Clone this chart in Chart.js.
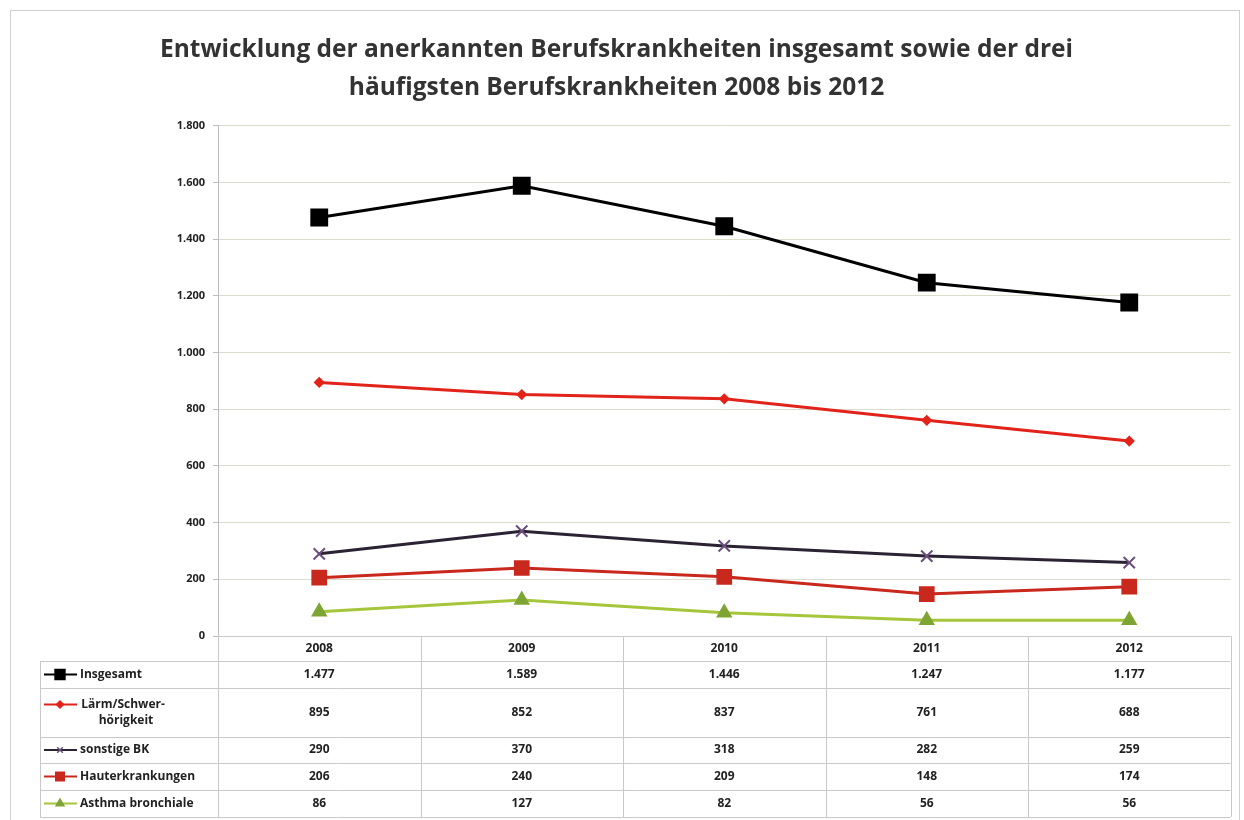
<!DOCTYPE html>
<html>
<head>
<meta charset="utf-8">
<script src="https://cdn.jsdelivr.net/npm/chart.js@4.4.1/dist/chart.umd.min.js"></script>
<style>
  html, body { margin: 0; background: #fff; }
  canvas { display: block; }
</style>
</head>
<body>
<canvas id="bkChart" width="1244" height="820"></canvas>
<script>
// === Data ====================================================================
const years = ["2008", "2009", "2010", "2011", "2012"];
const insgesamt = [1477, 1589, 1446, 1247, 1177];
const laermSchwerhoerigkeit = [895, 852, 837, 761, 688];
const sonstigeBK = [290, 370, 318, 282, 259];
const hauterkrankungen = [206, 240, 209, 148, 174];
const asthmaBronchiale = [86, 127, 82, 56, 56];
const rowLabels = [
  ["Insgesamt"],
  ["Lärm/Schwer-", "hörigkeit"],
  ["sonstige BK"],
  ["Hauterkrankungen"],
  ["Asthma bronchiale"],
];
const titleLines = [
  "Entwicklung der anerkannten Berufskrankheiten insgesamt sowie der drei",
  "häufigsten Berufskrankheiten 2008 bis 2012",
];

// German number format: 1477 -> "1.477"
function fmtDE(v) {
  return String(v).replace(/\B(?=(\d{3})+(?!\d))/g, ".");
}

const FONT = "'Open Sans', 'Liberation Sans', sans-serif";

// === Data table below the plot ==============================================
const tablePlugin = {
  id: "dataTable",
  afterDraw(chart) {
    const ctx = chart.ctx;
    const xs = chart.scales.x;
    const area = chart.chartArea;
    const colW = (area.right - area.left) / years.length;
    const rowEdges = [661, 688, 737, 763, 790, 817];
    const tableLeft = 40;

    ctx.save();
    ctx.strokeStyle = "#c9c9c9";
    ctx.lineWidth = 1;

    // horizontal lines
    ctx.beginPath();
    ctx.moveTo(area.left, area.bottom + 0.5);
    ctx.lineTo(area.right, area.bottom + 0.5);
    rowEdges.forEach(y => {
      ctx.moveTo(tableLeft, y + 0.5);
      ctx.lineTo(area.right, y + 0.5);
    });
    // vertical lines
    ctx.moveTo(tableLeft + 0.5, rowEdges[0]);
    ctx.lineTo(tableLeft + 0.5, rowEdges[rowEdges.length - 1]);
    for (let i = 0; i <= years.length; i++) {
      const vx = Math.round(area.left + i * colW) + 0.5;
      ctx.moveTo(vx, area.bottom);
      ctx.lineTo(vx, rowEdges[rowEdges.length - 1]);
    }
    ctx.stroke();

    // year header
    ctx.fillStyle = "#222";
    ctx.font = "bold 12px " + FONT;
    ctx.textAlign = "center";
    ctx.textBaseline = "middle";
    years.forEach((y, i) => ctx.fillText(y, xs.getPixelForValue(i), (area.bottom + rowEdges[0]) / 2));

    // rows
    chart.data.datasets.forEach((ds, r) => {
      const yc = (rowEdges[r] + rowEdges[r + 1]) / 2;
      // values
      ctx.font = "bold 12px " + FONT;
      ctx.textAlign = "center";
      ctx.fillStyle = "#222";
      ds.data.forEach((v, i) => ctx.fillText(fmtDE(v), xs.getPixelForValue(i), yc));

      // legend key
      const ky = rowLabels[r].length > 1 ? yc - 8 : yc;
      ctx.strokeStyle = ds.borderColor;
      ctx.lineWidth = 2;
      ctx.beginPath();
      ctx.moveTo(44, ky);
      ctx.lineTo(77, ky);
      ctx.stroke();
      ctx.fillStyle = ds.pointBackgroundColor;
      ctx.strokeStyle = ds.pointBorderColor;
      ctx.lineWidth = 1.5;
      Chart.helpers.drawPoint(ctx, {
        pointStyle: ds.pointStyle,
        radius: ds.legendRadius,
        borderWidth: 1.5,
      }, 60, ky);

      // label
      ctx.fillStyle = "#222";
      ctx.font = "bold 12px " + FONT;
      if (rowLabels[r].length > 1) {
        ctx.textAlign = "center";
        ctx.fillText(rowLabels[r][0], 123, yc - 8);
        ctx.fillText(rowLabels[r][1], 126, yc + 8);
      } else {
        ctx.textAlign = "left";
        ctx.fillText(rowLabels[r][0], 80, yc);
      }
    });

    // outer frame
    ctx.strokeStyle = "#d0d0d0";
    ctx.lineWidth = 1;
    ctx.strokeRect(10.5, 10.5, 1229, 830);
    ctx.restore();
  },
};

// === Chart ===================================================================
function makeSeries(label, data, color, style, radius, legendRadius, extra) {
  return Object.assign({
    label,
    data,
    borderColor: color,
    backgroundColor: color,
    pointBackgroundColor: color,
    pointBorderColor: color,
    borderWidth: 3,
    pointStyle: style,
    pointRadius: radius,
    pointHoverRadius: radius,
    legendRadius,
    tension: 0,
    fill: false,
  }, extra || {});
}

new Chart(document.getElementById("bkChart"), {
  type: "line",
  data: {
    labels: years,
    datasets: [
      makeSeries("Insgesamt", insgesamt, "#000000", "rect", 10.5, 7),
      makeSeries("Lärm/Schwerhörigkeit", laermSchwerhoerigkeit, "#e2231a", "rectRot", 3.5, 3.5),
      makeSeries("sonstige BK", sonstigeBK, "#2b2233", "crossRot", 8, 4,
        { pointBorderColor: "#6b4f7d", pointBackgroundColor: "#6b4f7d", pointBorderWidth: 2 }),
      makeSeries("Hauterkrankungen", hauterkrankungen, "#c9281d", "rect", 9, 6),
      makeSeries("Asthma bronchiale", asthmaBronchiale, "#a5c63b", "triangle", 6.5, 4.5,
        { pointBackgroundColor: "#7ea534", pointBorderColor: "#7ea534" }),
    ],
  },
  options: {
    responsive: false,
    animation: false,
    layout: { padding: { left: 0, right: 11, top: 0, bottom: 184 } },
    scales: {
      x: { type: "category", display: false, offset: true },
      y: {
        min: 0,
        max: 1800,
        ticks: {
          stepSize: 200,
          color: "#222",
          font: { family: FONT, size: 11, weight: "bold" },
          padding: 8,
          callback: v => fmtDE(v),
        },
        grid: { color: "#dcdccd", tickLength: 5, tickColor: "#bdbdbd" },
        border: { color: "#bdbdbd" },
        afterFit: s => { s.width = 218; },
      },
    },
    plugins: {
      legend: { display: false },
      tooltip: { enabled: false },
      title: {
        display: true,
        text: titleLines,
        color: "#333",
        font: { family: FONT, size: 24.5, weight: "bold", lineHeight: 1.55 },
        padding: { top: 31, bottom: 19 },
      },
    },
  },
  plugins: [tablePlugin],
});
</script>
</body>
</html>
